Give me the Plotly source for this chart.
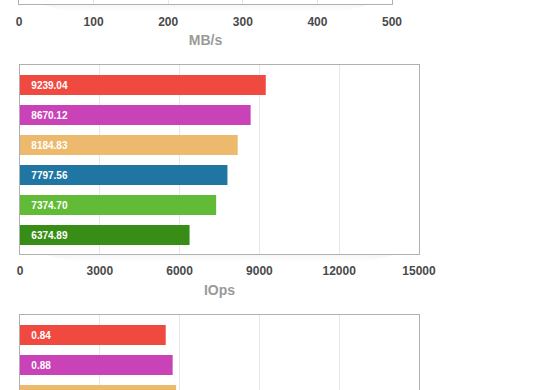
import plotly.graph_objects as go

# ---- data ----
categories = ["Test 1", "Test 2", "Test 3", "Test 4", "Test 5", "Test 6"]
bar_colors = ["#f0493f", "#c942b8", "#ecb96d", "#1f76a3", "#62bb36", "#388d17"]

iops_values = [9239.04, 8670.12, 8184.83, 7797.56, 7374.70, 6374.89]
iops_labels = ["9239.04", "8670.12", "8184.83", "7797.56", "7374.70", "6374.89"]

lat_categories = ["Test 1", "Test 2", "Test 3"]
lat_values = [0.84, 0.88, 0.90]
lat_labels = ["0.84", "0.88", "0.90"]

mbs_ticks = [0, 100, 200, 300, 400, 500]
mbs_ticktext = ["0", "100", "200", "300", "400", "500"]
iops_ticks = [0, 3000, 6000, 9000, 12000, 15000]
iops_ticktext = ["0", "3000", "6000", "9000", "12000", "15000"]

mbs_title = "MB/s"
iops_title = "IOps"

# ---- style ----
FONT = "Arial, Liberation Sans, Helvetica, sans-serif"
FRAME = "#b0b0b0"
GRID = "#e6e6e6"
TICKFONT = dict(family=FONT, size=12, color="#4a4a4a", weight="bold")
TITLEFONT = dict(family=FONT, size=14, color="#9a9a9a", weight="bold")
BARFONT = dict(family=FONT, size=10, color="#ffffff", weight="bold")
PAD = "\u00a0\u00a0\u00a0"

fig = go.Figure()

# top (cut-off) MB/s chart: axes only visible
fig.add_trace(go.Bar(x=[], y=[], orientation="h", xaxis="x", yaxis="y",
                     showlegend=False, hoverinfo="skip"))

# IOps chart
fig.add_trace(go.Bar(
    x=iops_values, y=categories, orientation="h",
    marker=dict(color=bar_colors, line=dict(width=0)),
    width=0.667,
    text=[PAD + t for t in iops_labels], textposition="inside",
    insidetextanchor="start", textfont=BARFONT,
    xaxis="x2", yaxis="y2", showlegend=False))

# bottom (cut-off) chart
fig.add_trace(go.Bar(
    x=lat_values, y=lat_categories, orientation="h",
    marker=dict(color=bar_colors[:len(lat_values)], line=dict(width=0)),
    width=0.667,
    text=[PAD + t for t in lat_labels], textposition="inside",
    insidetextanchor="start", textfont=BARFONT,
    xaxis="x3", yaxis="y3", showlegend=False))

H = 390.0
common_x = dict(showgrid=True, gridcolor=GRID, gridwidth=1, zeroline=False,
                ticks="", tickfont=TICKFONT, linecolor=FRAME, linewidth=1,
                fixedrange=True)
common_y = dict(showgrid=False, zeroline=False, showticklabels=False, ticks="",
                showline=True, mirror=True, linecolor=FRAME, linewidth=1,
                fixedrange=True)

# soft drop shadow under the frames (pure styling)
shapes = []
for xref, yref, hpx in [("x domain", "y domain", 4.0), ("x2 domain", "y2 domain", 189.0)]:
    for i in range(8):
        shapes.append(dict(
            type="rect", xref=xref, yref=yref, layer="below",
            x0=0.06 + 0.01 * i, x1=0.94 - 0.01 * i,
            y0=-(i + 1) / hpx, y1=-i / hpx,
            fillcolor="rgba(0,0,0,%.3f)" % (0.035 * (1 - i / 8)),
            line=dict(width=0)))

fig.update_layout(
    width=560, height=390,
    margin=dict(l=19, r=141, t=0, b=0),
    paper_bgcolor="white", plot_bgcolor="white",
    bargap=0.333,
    shapes=shapes,
    xaxis=dict(domain=[0, 373 / 400], anchor="y", range=[0, 500],
               tickvals=mbs_ticks, ticktext=mbs_ticktext,
               showline=True, mirror=False, ticklabelstandoff=7,
               title=dict(text=mbs_title, font=TITLEFONT, standoff=6),
               **common_x),
    yaxis=dict(domain=[386 / H, 1], anchor="x", range=[0, 1], **common_y),
    xaxis2=dict(domain=[1 / 400, 1], anchor="y2", range=[0, 15000],
                tickvals=iops_ticks, ticktext=iops_ticktext,
                showline=True, mirror=True, ticklabelstandoff=6,
                title=dict(text=iops_title, font=TITLEFONT, standoff=7),
                **common_x),
    yaxis2=dict(domain=[136 / H, 325 / H], anchor="x2", type="category",
                range=[5.633, -0.667], **common_y),
    xaxis3=dict(domain=[1 / 400, 1], anchor="y3", range=[0, 2.3],
                tick0=0, dtick=0.46, showticklabels=False, side="top",
                showline=True, mirror=False, **common_x),
    yaxis3=dict(domain=[0, 75 / H], anchor="x3", type="category",
                range=[1.833, -0.667], **common_y),
)

fig.write_html("out.html", config={"displayModeBar": False},
               post_script="document.body.style.margin='0';"
                           "document.body.style.overflow='hidden';")
